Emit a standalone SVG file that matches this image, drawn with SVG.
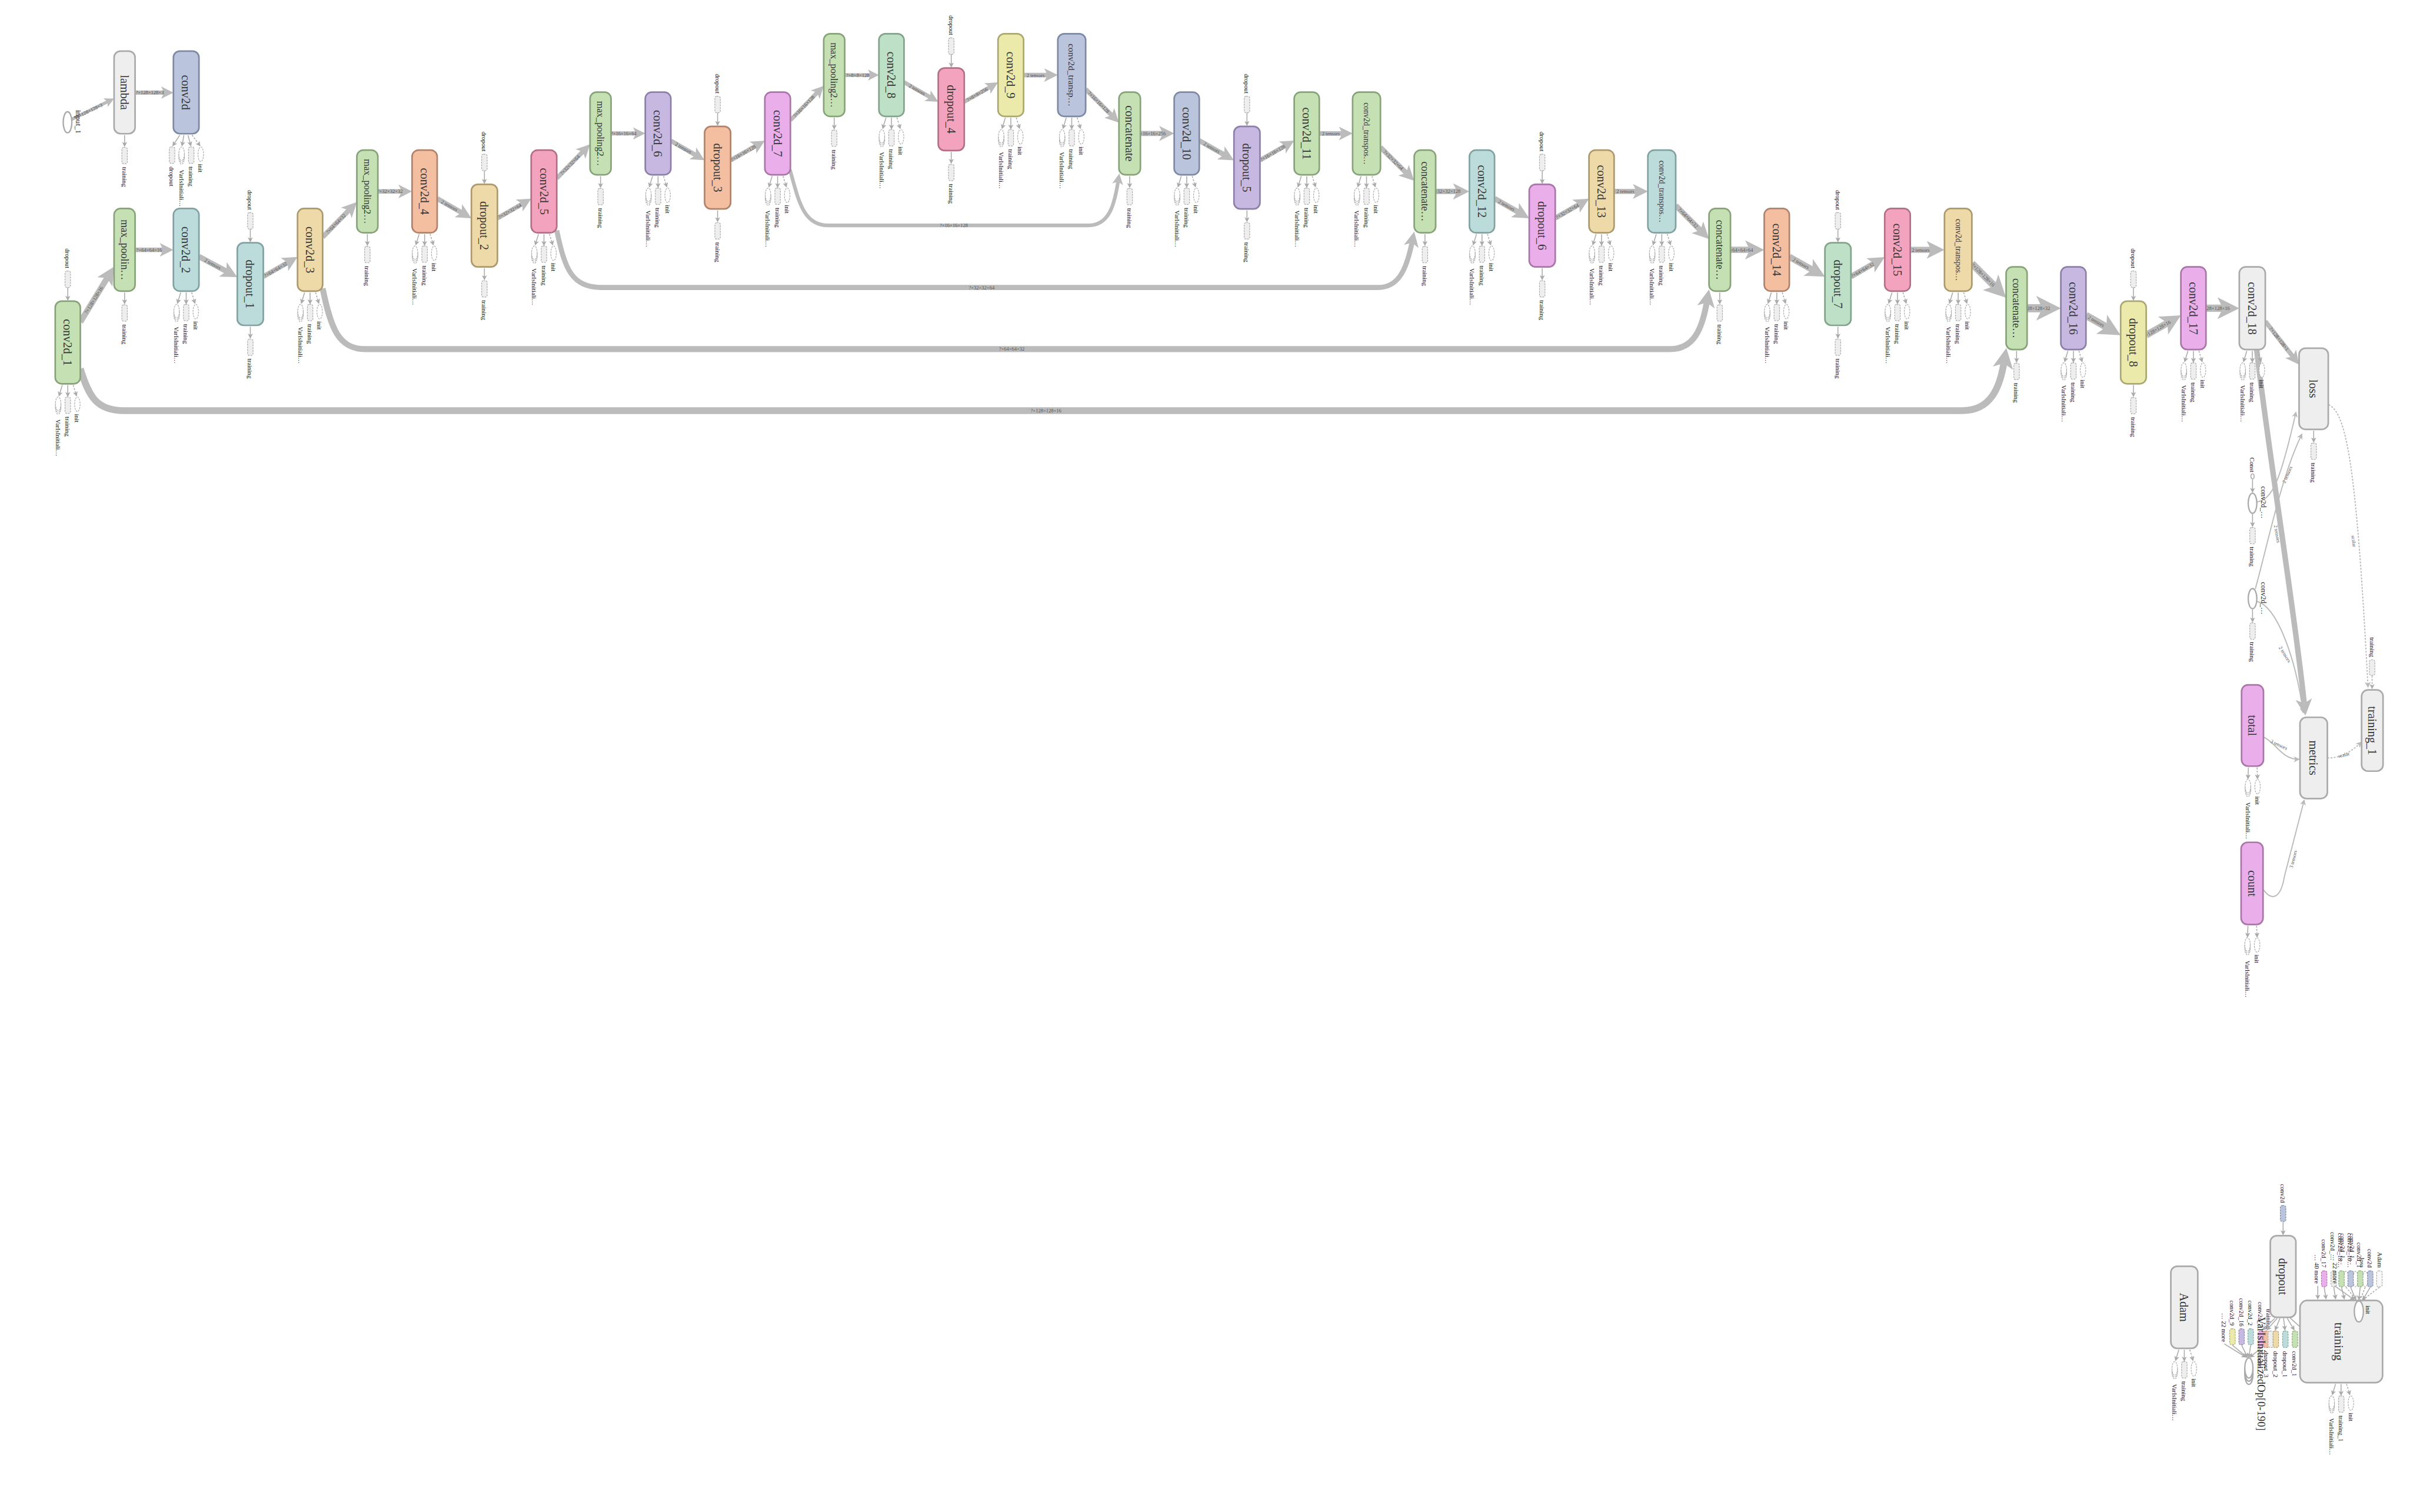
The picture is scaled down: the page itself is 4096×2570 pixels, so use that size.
<svg xmlns="http://www.w3.org/2000/svg" width="4096" height="2570" viewBox="0 0 4096 2570">
<style>
text{font-family:"Liberation Serif","Times New Roman",serif}
.nb{stroke-width:3.5}
.g{fill:#eeeeee;stroke:#aaaaaa}
.grn{fill:#c5e1b4;stroke:#88a37a}
.blu{fill:#bac4dc;stroke:#7e89a3}
.tea{fill:#bcdcdb;stroke:#82a2a1}
.tan{fill:#eed9a9;stroke:#ac996d}
.sal{fill:#f4bea1;stroke:#b1836d}
.pnk{fill:#f4a3bf;stroke:#b26f88}
.pur{fill:#c7b8e1;stroke:#8d80a8}
.mag{fill:#eaaeea;stroke:#a877a8}
.mnt{fill:#bde0c6;stroke:#83a38b}
.yel{fill:#ebeaab;stroke:#aba873}
.nl{font-size:26px;fill:#333;text-anchor:middle;dominant-baseline:central}
.al{font-size:14px;fill:#111;dominant-baseline:central}
.ae{text-anchor:end}
.el{font-size:11px;fill:#555;text-anchor:middle;dominant-baseline:central}
.e{fill:none;stroke:#bbbbbb}
.t{fill:none;stroke:#bbbbbb;stroke-width:2.5}
.aw{fill:none;stroke:#aaaaaa;stroke-width:2}
.ad{stroke-dasharray:4 3}
.ar{fill:#eeeeee;stroke:#aaaaaa;stroke-width:1.5;stroke-dasharray:4 2}
.av{fill:#ffffff;stroke:#aaaaaa;stroke-width:1.5;stroke-dasharray:4 2}
.op{fill:#ffffff;stroke:#aaaaaa;stroke-width:3}
</style>
<defs>
<marker id="ah" viewBox="0 0 10 10" refX="2.5" refY="5" markerWidth="3" markerHeight="3" orient="auto"><path d="M0,0 L10,5 L0,10 L2.5,5 z" fill="#bbbbbb"/></marker>
<marker id="sa" viewBox="0 0 10 10" refX="8" refY="5" markerWidth="11" markerHeight="11" markerUnits="userSpaceOnUse" orient="auto"><path d="M0,0 L10,5 L0,10 L2.5,5 z" fill="#aaaaaa"/></marker>
<marker id="ta" viewBox="0 0 10 10" refX="8" refY="5" markerWidth="14" markerHeight="13" markerUnits="userSpaceOnUse" orient="auto"><path d="M0,0 L10,5 L0,10 L2.5,5 z" fill="#bbbbbb"/></marker>
<g id="vs">
<ellipse class="av" cx="0" cy="52" rx="6" ry="15"/>
<ellipse class="av" cx="0" cy="48" rx="6" ry="15"/>
<ellipse class="av" cx="0" cy="44" rx="6" ry="15"/>
</g>
<g id="a3">
<path class="aw" d="M-12,3 L-19,26" marker-end="url(#sa)"/>
<path class="aw" d="M0,3 V27" marker-end="url(#sa)"/>
<path class="aw ad" d="M12,3 L19,26" marker-end="url(#sa)"/>
<use href="#vs" x="-21"/>
<rect class="ar" x="-6" y="29" width="12" height="36" rx="4"/>
<ellipse class="av" cx="21" cy="45" rx="6" ry="16"/>
<text class="al" transform="translate(-21,78) rotate(90)">VarIsInitiali…</text>
<text class="al" transform="translate(0,72) rotate(90)">training</text>
<text class="al" transform="translate(21,66) rotate(90)">init</text>
</g>
<g id="a4">
<path class="aw" d="M-14,3 L-29,26" marker-end="url(#sa)"/>
<path class="aw" d="M-5,3 L-9,26" marker-end="url(#sa)"/>
<path class="aw" d="M4,3 L10,26" marker-end="url(#sa)"/>
<path class="aw ad" d="M13,3 L30,26" marker-end="url(#sa)"/>
<rect class="ar" x="-37" y="29" width="12" height="36" rx="4"/>
<use href="#vs" x="-10"/>
<rect class="ar" x="5" y="29" width="12" height="36" rx="4"/>
<ellipse class="av" cx="32" cy="45" rx="6" ry="16"/>
<text class="al" transform="translate(-31,72) rotate(90)">dropout</text>
<text class="al" transform="translate(-10,79) rotate(90)">VarIsInitiali…</text>
<text class="al" transform="translate(11,72) rotate(90)">training</text>
<text class="al" transform="translate(32,66) rotate(90)">init</text>
</g>
<g id="a2">
<path class="aw" d="M-9,3 L-10,27" marker-end="url(#sa)"/>
<path class="aw ad" d="M10,3 L11,27" marker-end="url(#sa)"/>
<use href="#vs" x="-10"/>
<ellipse class="av" cx="11" cy="45" rx="6" ry="16"/>
<text class="al" transform="translate(-10,79) rotate(90)">VarIsInitiali…</text>
<text class="al" transform="translate(11,66) rotate(90)">init</text>
</g>
<g id="a1">
<path class="aw" d="M0,3 V27" marker-end="url(#sa)"/>
<rect class="ar" x="-6" y="30" width="12" height="36" rx="4"/>
<text class="al" transform="translate(0,73) rotate(90)">training</text>
</g>
<g id="din">
<rect class="ar" x="-6" y="-66" width="12" height="36" rx="4"/>
<path class="aw" d="M0,-30 V-3" marker-end="url(#sa)"/>
<text class="al ae" transform="translate(0,-72) rotate(90)">dropout</text>
</g>
</defs>
<rect width="4096" height="2570" fill="#ffffff"/>
<g transform="scale(0.7756)">

<g id="connectors">
<path class="e" style="stroke-width:7" d="M156,262 L235.9,222.9" marker-end="url(#ah)"/>
<path class="e" style="stroke-width:9" d="M296,203 H359.8" marker-end="url(#ah)"/>
<path class="e" style="stroke-width:13" d="M176,705.7 L234.8,609.4" marker-end="url(#ah)"/>
<path class="e" style="stroke-width:10" d="M296,547.5 H357.5" marker-end="url(#ah)"/>
<path class="e" style="stroke-width:12" d="M436,562.4 L496.2,594.6" marker-end="url(#ah)"/>
<path class="e" style="stroke-width:11" d="M577,606.2 L630.5,575.5" marker-end="url(#ah)"/>
<path class="e" style="stroke-width:11" d="M707,519.5 L764.7,460.7" marker-end="url(#ah)"/>
<path class="e" style="stroke-width:10" d="M828,419.5 H880.5" marker-end="url(#ah)"/>
<path class="e" style="stroke-width:11" d="M958,435.2 L1011.5,465.9" marker-end="url(#ah)"/>
<path class="e" style="stroke-width:10" d="M1090,478.1 L1144.5,446.8" marker-end="url(#ah)"/>
<path class="e" style="stroke-width:10" d="M1220,390.8 L1277.3,332.2" marker-end="url(#ah)"/>
<path class="e" style="stroke-width:9" d="M1339,292.5 H1393.8" marker-end="url(#ah)"/>
<path class="e" style="stroke-width:10" d="M1470,308.6 L1524.5,339.9" marker-end="url(#ah)"/>
<path class="e" style="stroke-width:10" d="M1601,351.2 L1656.4,319.6" marker-end="url(#ah)"/>
<path class="e" style="stroke-width:9" d="M1732,263.6 L1790.9,202.7" marker-end="url(#ah)"/>
<path class="e" style="stroke-width:8" d="M1851,164.5 H1908" marker-end="url(#ah)"/>
<path class="e" style="stroke-width:9" d="M1981,180.2 L2038.4,213.1" marker-end="url(#ah)"/>
<path class="e" style="stroke-width:9" d="M2113,223.1 L2169.4,190.7" marker-end="url(#ah)"/>
<path class="e" style="stroke-width:10" d="M2243,164.5 H2295.5" marker-end="url(#ah)"/>
<path class="e" style="stroke-width:10" d="M2379,195.2 L2436.2,252.8" marker-end="url(#ah)"/>
<path class="e" style="stroke-width:11" d="M2499,292.5 H2548.3" marker-end="url(#ah)"/>
<path class="e" style="stroke-width:11" d="M2628,308.1 L2682.5,339.1" marker-end="url(#ah)"/>
<path class="e" style="stroke-width:10" d="M2761,351.2 L2816.5,319.4" marker-end="url(#ah)"/>
<path class="e" style="stroke-width:10" d="M2891,292.5 H2941.5" marker-end="url(#ah)"/>
<path class="e" style="stroke-width:11" d="M3025,322.8 L3081.4,378.8" marker-end="url(#ah)"/>
<path class="e" style="stroke-width:12" d="M3146,419.5 H3193" marker-end="url(#ah)"/>
<path class="e" style="stroke-width:12" d="M3275,435.1 L3327.5,465" marker-end="url(#ah)"/>
<path class="e" style="stroke-width:11" d="M3408,478.1 L3460.6,447.8" marker-end="url(#ah)"/>
<path class="e" style="stroke-width:11" d="M3537,419.5 H3586.3" marker-end="url(#ah)"/>
<path class="e" style="stroke-width:12" d="M3672,450.2 L3726,504.6" marker-end="url(#ah)"/>
<path class="e" style="stroke-width:14" d="M3792,547.5 H3834.5" marker-end="url(#ah)"/>
<path class="e" style="stroke-width:14" d="M3921,562.9 L3971.5,591.1" marker-end="url(#ah)"/>
<path class="e" style="stroke-width:12" d="M4056,606.1 L4106.6,577" marker-end="url(#ah)"/>
<path class="e" style="stroke-width:13" d="M4186,547.5 H4231.8" marker-end="url(#ah)"/>
<path class="e" style="stroke-width:16" d="M4321,577.5 L4370.5,627" marker-end="url(#ah)"/>
<path class="e" style="stroke-width:18" d="M4442,675.5 H4475.5" marker-end="url(#ah)"/>
<path class="e" style="stroke-width:16" d="M4571,691.2 L4615.7,716.7" marker-end="url(#ah)"/>
<path class="e" style="stroke-width:15" d="M4703,734.5 L4749.7,707.9" marker-end="url(#ah)"/>
<path class="e" style="stroke-width:16" d="M4834,675.5 H4871" marker-end="url(#ah)"/>
<path class="e" style="stroke-width:10" d="M4964,704 L5024.2,781.2" marker-end="url(#ah)"/>
<path class="e" style="stroke-width:12" d="M4945,765 C4965,950 5030,1350 5049.2,1541.3" marker-end="url(#ah)"/>
<path class="e" style="stroke-width:8" d="M1731,372 C1750,440 1760,494 1815,494 L2385,494 C2430,494 2442,450 2450,398" marker-end="url(#ah)"/>
<path class="e" style="stroke-width:11" d="M1220,505 C1238,590 1252,630 1320,630 L3020,630 C3065,630 3082,590 3094,532" marker-end="url(#ah)"/>
<path class="e" style="stroke-width:13" d="M707,632 C725,720 742,765 800,765 L3660,765 C3712,765 3730,720 3740,663" marker-end="url(#ah)"/>
<path class="e" style="stroke-width:15" d="M176,808 C195,870 212,900 272,900 L4300,900 C4362,900 4382,850 4391,796" marker-end="url(#ah)"/>
<path class="t" d="M4946,1100 C4980,1095 4998,1050 5031,904" marker-end="url(#ta)"/>
<path class="t" d="M4942,1291 C4970,1190 5000,1040 5044,952" marker-end="url(#ta)"/>
<path class="t" d="M4946,1318 C4990,1330 5030,1440 5047,1561" marker-end="url(#ta)"/>
<path class="t" d="M4960,1615 C4990,1630 5000,1664 5037,1664" marker-end="url(#ta)"/>
<path class="t" d="M4960,1950 C4978,1975 4998,1970 5006,1920 L5049,1754" marker-end="url(#ta)"/>
<path class="t ad" d="M5103,887 C5145,905 5165,1050 5189,1505" marker-end="url(#ta)"/>
<path class="t ad" d="M5100,1661 C5125,1662 5150,1650 5174,1627" marker-end="url(#ta)"/>
</g>

<g id="edge-labels">
<text class="el" transform="translate(196,242.5) rotate(-26)">?×128×128×3</text>
<text class="el" transform="translate(328,203)">?×128×128×3</text>
<text class="el" transform="translate(205.4,657.6) rotate(-58.6)">?×128×128×16</text>
<text class="el" transform="translate(326.8,547.5)">?×64×64×16</text>
<text class="el" transform="translate(466.1,578.5) rotate(28.2)">2 tensors</text>
<text class="el" transform="translate(603.8,590.9) rotate(-29.9)">?×64×64×32</text>
<text class="el" transform="translate(735.9,490.1) rotate(-45.6)">?×64×64×32</text>
<text class="el" transform="translate(854.3,419.5)">?×32×32×32</text>
<text class="el" transform="translate(984.8,450.6) rotate(29.9)">2 tensors</text>
<text class="el" transform="translate(1117.3,462.5) rotate(-29.9)">?×32×32×64</text>
<text class="el" transform="translate(1248.7,361.5) rotate(-45.7)">?×32×32×64</text>
<text class="el" transform="translate(1366.4,292.5)">?×16×16×64</text>
<text class="el" transform="translate(1497.3,324.3) rotate(29.9)">2 tensors</text>
<text class="el" transform="translate(1628.7,335.4) rotate(-29.7)">?×16×16×128</text>
<text class="el" transform="translate(1761.5,233.2) rotate(-45.9)">?×16×16×128</text>
<text class="el" transform="translate(1879.5,164.5)">?×8×8×128</text>
<text class="el" transform="translate(2009.7,196.7) rotate(29.8)">2 tensors</text>
<text class="el" transform="translate(2141.2,206.9) rotate(-29.9)">?×8×8×256</text>
<text class="el" transform="translate(2269.3,164.5)">2 tensors</text>
<text class="el" transform="translate(2407.6,224) rotate(45.2)">?×16×16×128</text>
<text class="el" transform="translate(2523.6,292.5)">?×16×16×256</text>
<text class="el" transform="translate(2655.3,323.6) rotate(29.6)">2 tensors</text>
<text class="el" transform="translate(2788.8,335.3) rotate(-29.8)">?×16×16×128</text>
<text class="el" transform="translate(2916.3,292.5)">2 tensors</text>
<text class="el" transform="translate(3053.2,350.8) rotate(44.8)">?×32×32×64</text>
<text class="el" transform="translate(3169.5,419.5)">?×32×32×128</text>
<text class="el" transform="translate(3301.3,450.1) rotate(29.6)">2 tensors</text>
<text class="el" transform="translate(3434.3,463) rotate(-30)">?×32×32×64</text>
<text class="el" transform="translate(3561.6,419.5)">2 tensors</text>
<text class="el" transform="translate(3699,477.4) rotate(45.2)">?×64×64×32</text>
<text class="el" transform="translate(3813.3,547.5)">?×64×64×64</text>
<text class="el" transform="translate(3946.3,577) rotate(29.2)">2 tensors</text>
<text class="el" transform="translate(4081.3,591.6) rotate(-29.9)">?×64×64×32</text>
<text class="el" transform="translate(4208.9,547.5)">2 tensors</text>
<text class="el" transform="translate(4345.8,602.3) rotate(45)">?×128×128×16</text>
<text class="el" transform="translate(4458.8,675.5)">?×128×128×32</text>
<text class="el" transform="translate(4593.4,704) rotate(29.7)">2 tensors</text>
<text class="el" transform="translate(4726.4,721.2) rotate(-29.7)">?×128×128×16</text>
<text class="el" transform="translate(4852.5,675.5)">?×128×128×16</text>
<text class="el" transform="translate(4994.1,742.6) rotate(52.1)">?×128×128×1</text>
<text class="el" transform="translate(4990,1170) rotate(80)">2 tensors</text>
<text class="el" transform="translate(2090,494)">?×16×16×128</text>
<text class="el" transform="translate(2151,630)">?×32×32×64</text>
<text class="el" transform="translate(2217,765)">?×64×64×32</text>
<text class="el" transform="translate(2292,900)">?×128×128×16</text>
<text class="el" transform="translate(5012,1040) rotate(-66)">2 tensors</text>
<text class="el" transform="translate(5007,1434) rotate(58)">2 tensors</text>
<text class="el" transform="translate(4994,1632) rotate(25)">3 tensors</text>
<text class="el" transform="translate(5025,1883) rotate(-76)">3 tensors</text>
<text class="el" transform="translate(5158,1186) rotate(82)">scalar</text>
<text class="el" transform="translate(5136,1654) rotate(-15)">scalar</text>
</g>

<g id="input_1">
<ellipse class="op" cx="148" cy="268" rx="9.5" ry="23"/>
<text style="font-size:17px;fill:#222;text-anchor:middle;dominant-baseline:central" transform="translate(172,267) rotate(90)">input_1</text>
</g>
<g id="lambda"><rect class="nb g" x="250" y="112" width="46" height="181" rx="14"/><text class="nl" transform="translate(273,202.5) rotate(90)">lambda</text><use href="#a1" x="273" y="293"/></g>
<g id="conv2d"><rect class="nb blu" x="380" y="112" width="56" height="181" rx="14"/><text class="nl" transform="translate(408,202.5) rotate(90)">conv2d</text><use href="#a4" x="408" y="293"/></g>
<g id="conv2d_1"><rect class="nb grn" x="121" y="660" width="55" height="181" rx="14"/><text class="nl" transform="translate(148.5,750.5) rotate(90)">conv2d_1</text><use href="#din" x="148.5" y="660"/><use href="#a3" x="148.5" y="841"/></g>
<g id="max_pooling2d"><rect class="nb grn" x="250" y="457" width="46" height="181" rx="14"/><text class="nl" style="font-size:23px" transform="translate(273,547.5) rotate(90)">max_poolin…</text><use href="#a1" x="273" y="638"/></g>
<g id="conv2d_2"><rect class="nb tea" x="380" y="457" width="56" height="181" rx="14"/><text class="nl" transform="translate(408,547.5) rotate(90)">conv2d_2</text><use href="#a3" x="408" y="638"/></g>
<g id="dropout_1"><rect class="nb tea" x="520" y="532" width="57" height="181" rx="14"/><text class="nl" transform="translate(548.5,622.5) rotate(90)">dropout_1</text><use href="#din" x="548.5" y="532"/><use href="#a1" x="548.5" y="713"/></g>
<g id="conv2d_3"><rect class="nb tan" x="652" y="457" width="55" height="181" rx="14"/><text class="nl" transform="translate(679.5,547.5) rotate(90)">conv2d_3</text><use href="#a3" x="679.5" y="638"/></g>
<g id="max_pooling2d_1"><rect class="nb grn" x="782" y="329" width="46" height="181" rx="14"/><text class="nl" style="font-size:21px" transform="translate(805,419.5) rotate(90)">max_pooling2…</text><use href="#a1" x="805" y="510"/></g>
<g id="conv2d_4"><rect class="nb sal" x="903" y="329" width="55" height="181" rx="14"/><text class="nl" transform="translate(930.5,419.5) rotate(90)">conv2d_4</text><use href="#a3" x="930.5" y="510"/></g>
<g id="dropout_2"><rect class="nb tan" x="1033" y="404" width="57" height="181" rx="14"/><text class="nl" transform="translate(1061.5,494.5) rotate(90)">dropout_2</text><use href="#din" x="1061.5" y="404"/><use href="#a1" x="1061.5" y="585"/></g>
<g id="conv2d_5"><rect class="nb pnk" x="1164" y="329" width="56" height="181" rx="14"/><text class="nl" transform="translate(1192,419.5) rotate(90)">conv2d_5</text><use href="#a3" x="1192" y="510"/></g>
<g id="max_pooling2d_2"><rect class="nb grn" x="1293" y="202" width="46" height="181" rx="14"/><text class="nl" style="font-size:21px" transform="translate(1316,292.5) rotate(90)">max_pooling2…</text><use href="#a1" x="1316" y="383"/></g>
<g id="conv2d_6"><rect class="nb pur" x="1414" y="202" width="56" height="181" rx="14"/><text class="nl" transform="translate(1442,292.5) rotate(90)">conv2d_6</text><use href="#a3" x="1442" y="383"/></g>
<g id="dropout_3"><rect class="nb sal" x="1544" y="277" width="57" height="181" rx="14"/><text class="nl" transform="translate(1572.5,367.5) rotate(90)">dropout_3</text><use href="#din" x="1572.5" y="277"/><use href="#a1" x="1572.5" y="458"/></g>
<g id="conv2d_7"><rect class="nb mag" x="1676" y="202" width="56" height="181" rx="14"/><text class="nl" transform="translate(1704,292.5) rotate(90)">conv2d_7</text><use href="#a3" x="1704" y="383"/></g>
<g id="max_pooling2d_3"><rect class="nb grn" x="1805" y="74" width="46" height="181" rx="14"/><text class="nl" style="font-size:21px" transform="translate(1828,164.5) rotate(90)">max_pooling2…</text><use href="#a1" x="1828" y="255"/></g>
<g id="conv2d_8"><rect class="nb mnt" x="1926" y="74" width="55" height="181" rx="14"/><text class="nl" transform="translate(1953.5,164.5) rotate(90)">conv2d_8</text><use href="#a3" x="1953.5" y="255"/></g>
<g id="dropout_4"><rect class="nb pnk" x="2056" y="149" width="57" height="181" rx="14"/><text class="nl" transform="translate(2084.5,239.5) rotate(90)">dropout_4</text><use href="#din" x="2084.5" y="149"/><use href="#a1" x="2084.5" y="330"/></g>
<g id="conv2d_9"><rect class="nb yel" x="2187" y="74" width="56" height="181" rx="14"/><text class="nl" transform="translate(2215,164.5) rotate(90)">conv2d_9</text><use href="#a3" x="2215" y="255"/></g>
<g id="conv2d_transpose"><rect class="nb blu" x="2318" y="74" width="61" height="181" rx="14"/><text class="nl" style="font-size:20px" transform="translate(2348.5,164.5) rotate(90)">conv2d_transp…</text><use href="#a3" x="2348.5" y="255"/></g>
<g id="concatenate"><rect class="nb grn" x="2452" y="202" width="47" height="181" rx="14"/><text class="nl" transform="translate(2475.5,292.5) rotate(90)">concatenate</text><use href="#a1" x="2475.5" y="383"/></g>
<g id="conv2d_10"><rect class="nb blu" x="2573" y="202" width="55" height="181" rx="14"/><text class="nl" transform="translate(2600.5,292.5) rotate(90)">conv2d_10</text><use href="#a3" x="2600.5" y="383"/></g>
<g id="dropout_5"><rect class="nb pur" x="2704" y="277" width="57" height="181" rx="14"/><text class="nl" transform="translate(2732.5,367.5) rotate(90)">dropout_5</text><use href="#din" x="2732.5" y="277"/><use href="#a1" x="2732.5" y="458"/></g>
<g id="conv2d_11"><rect class="nb grn" x="2836" y="202" width="55" height="181" rx="14"/><text class="nl" transform="translate(2863.5,292.5) rotate(90)">conv2d_11</text><use href="#a3" x="2863.5" y="383"/></g>
<g id="conv2d_transpose_1"><rect class="nb grn" x="2964" y="202" width="61" height="181" rx="14"/><text class="nl" style="font-size:17.5px" transform="translate(2994.5,292.5) rotate(90)">conv2d_transpos…</text><use href="#a3" x="2994.5" y="383"/></g>
<g id="concatenate_1"><rect class="nb grn" x="3099" y="329" width="47" height="181" rx="14"/><text class="nl" style="font-size:23px" transform="translate(3122.5,419.5) rotate(90)">concatenate…</text><use href="#a1" x="3122.5" y="510"/></g>
<g id="conv2d_12"><rect class="nb tea" x="3220" y="329" width="55" height="181" rx="14"/><text class="nl" transform="translate(3247.5,419.5) rotate(90)">conv2d_12</text><use href="#a3" x="3247.5" y="510"/></g>
<g id="dropout_6"><rect class="nb mag" x="3351" y="404" width="57" height="181" rx="14"/><text class="nl" transform="translate(3379.5,494.5) rotate(90)">dropout_6</text><use href="#din" x="3379.5" y="404"/><use href="#a1" x="3379.5" y="585"/></g>
<g id="conv2d_13"><rect class="nb tan" x="3482" y="329" width="55" height="181" rx="14"/><text class="nl" transform="translate(3509.5,419.5) rotate(90)">conv2d_13</text><use href="#a3" x="3509.5" y="510"/></g>
<g id="conv2d_transpose_2"><rect class="nb tea" x="3611" y="329" width="61" height="181" rx="14"/><text class="nl" style="font-size:17.5px" transform="translate(3641.5,419.5) rotate(90)">conv2d_transpos…</text><use href="#a3" x="3641.5" y="510"/></g>
<g id="concatenate_2"><rect class="nb grn" x="3745" y="457" width="47" height="181" rx="14"/><text class="nl" style="font-size:23px" transform="translate(3768.5,547.5) rotate(90)">concatenate…</text><use href="#a1" x="3768.5" y="638"/></g>
<g id="conv2d_14"><rect class="nb sal" x="3866" y="457" width="55" height="181" rx="14"/><text class="nl" transform="translate(3893.5,547.5) rotate(90)">conv2d_14</text><use href="#a3" x="3893.5" y="638"/></g>
<g id="dropout_7"><rect class="nb mnt" x="3999" y="532" width="57" height="181" rx="14"/><text class="nl" transform="translate(4027.5,622.5) rotate(90)">dropout_7</text><use href="#din" x="4027.5" y="532"/><use href="#a1" x="4027.5" y="713"/></g>
<g id="conv2d_15"><rect class="nb pnk" x="4130" y="457" width="56" height="181" rx="14"/><text class="nl" transform="translate(4158,547.5) rotate(90)">conv2d_15</text><use href="#a3" x="4158" y="638"/></g>
<g id="conv2d_transpose_3"><rect class="nb tan" x="4261" y="457" width="60" height="181" rx="14"/><text class="nl" style="font-size:17.5px" transform="translate(4291,547.5) rotate(90)">conv2d_transpos…</text><use href="#a3" x="4291" y="638"/></g>
<g id="concatenate_3"><rect class="nb grn" x="4396" y="585" width="46" height="181" rx="14"/><text class="nl" style="font-size:23px" transform="translate(4419,675.5) rotate(90)">concatenate…</text><use href="#a1" x="4419" y="766"/></g>
<g id="conv2d_16"><rect class="nb pur" x="4516" y="585" width="55" height="181" rx="14"/><text class="nl" transform="translate(4543.5,675.5) rotate(90)">conv2d_16</text><use href="#a3" x="4543.5" y="766"/></g>
<g id="dropout_8"><rect class="nb yel" x="4647" y="660" width="56" height="181" rx="14"/><text class="nl" transform="translate(4675,750.5) rotate(90)">dropout_8</text><use href="#din" x="4675" y="660"/><use href="#a1" x="4675" y="841"/></g>
<g id="conv2d_17"><rect class="nb mag" x="4779" y="585" width="55" height="181" rx="14"/><text class="nl" transform="translate(4806.5,675.5) rotate(90)">conv2d_17</text><use href="#a3" x="4806.5" y="766"/></g>
<g id="conv2d_18"><rect class="nb g" x="4907" y="585" width="57" height="181" rx="14"/><text class="nl" transform="translate(4935.5,675.5) rotate(90)">conv2d_18</text><use href="#a3" x="4935.5" y="766"/></g>
<g id="loss"><rect class="nb g" x="5038" y="763" width="64" height="178" rx="14"/><text class="nl" transform="translate(5070,852) rotate(90)">loss</text><use href="#a1" x="5070" y="941"/></g>
<g id="const-ops">
<ellipse class="op" style="stroke-width:2" cx="4936" cy="1044" rx="3.5" ry="5.5"/>
<text class="al ae" transform="translate(4936,1035) rotate(90)">Const</text>
<path class="aw" d="M4936,1051 V1078" marker-end="url(#sa)"/>
<ellipse class="op" cx="4936" cy="1103" rx="9.5" ry="22"/>
<text style="font-size:16px;fill:#222;text-anchor:middle;dominant-baseline:central" transform="translate(4960,1101) rotate(90)">conv2d_…</text>
<path class="aw" d="M4936,1126 V1153" marker-end="url(#sa)"/>
<rect class="ar" x="4930" y="1156" width="12" height="36" rx="4"/>
<text class="al" transform="translate(4935,1198) rotate(90)">training</text>
<ellipse class="op" cx="4936" cy="1312" rx="9.5" ry="22"/>
<text style="font-size:16px;fill:#222;text-anchor:middle;dominant-baseline:central" transform="translate(4960,1311) rotate(90)">conv2d_…</text>
<path class="aw" d="M4936,1335 V1362" marker-end="url(#sa)"/>
<rect class="ar" x="4930" y="1365" width="12" height="36" rx="4"/>
<text class="al" transform="translate(4935,1407) rotate(90)">training</text>
</g>
<g id="metrics"><rect class="nb g" x="5040" y="1572" width="60" height="178" rx="14"/><text class="nl" transform="translate(5070,1661) rotate(90)">metrics</text></g>
<g id="training_1"><rect class="nb g" x="5175" y="1512" width="47" height="178" rx="14"/><text class="nl" transform="translate(5198.5,1601) rotate(90)">training_1</text>
<rect class="ar" x="5192" y="1446" width="12" height="34" rx="4"/>
<path class="aw ad" d="M5198,1481 V1508" marker-end="url(#sa)"/>
<text class="al ae" transform="translate(5198,1440) rotate(90)">training</text></g>
<g id="total"><rect class="nb mag" x="4912" y="1501" width="48" height="178" rx="14"/><text class="nl" transform="translate(4936,1590) rotate(90)">total</text><use href="#a2" x="4936" y="1679"/></g>
<g id="count"><rect class="nb mag" x="4911" y="1846" width="48" height="180" rx="14"/><text class="nl" transform="translate(4935,1936) rotate(90)">count</text><use href="#a2" x="4935" y="2026"/></g>
<g id="Adam"><rect class="nb g" x="4757" y="2775" width="59" height="180" rx="14"/><text class="nl" transform="translate(4786.5,2865) rotate(90)">Adam</text><use href="#a3" x="4786.5" y="2955"/></g>

<g id="dropout">
<text class="al ae" transform="translate(4972,2912) rotate(90)">training</text>
<rect class="nb g" x="4975" y="2708" width="56" height="179" rx="14"/><text class="nl" transform="translate(5003,2797.5) rotate(90)">dropout</text>
<rect x="4997" y="2642" width="12" height="35" rx="4" style="fill:#bac4dc;stroke:#7e89a3;stroke-width:1.5;stroke-dasharray:4 2"/>
<text class="al ae" transform="translate(5003,2636) rotate(90)">conv2d</text>
<path class="aw" d="M5003,2678 V2705" marker-end="url(#sa)"/>
<path class="aw" d="M4985,2889 L4959,2914" marker-end="url(#sa)"/>
<path class="aw" d="M4990,2889 L4968,2914" marker-end="url(#sa)"/>
<path class="aw" d="M4996,2889 L4986,2914" marker-end="url(#sa)"/>
<path class="aw" d="M5004,2889 L5007,2914" marker-end="url(#sa)"/>
<path class="aw" d="M5012,2889 L5027,2914" marker-end="url(#sa)"/>
<path class="aw" d="M5018,2888 L5047,2914" marker-end="url(#sa)"/>
<rect x="4949" y="2917" width="12" height="36" rx="4" style="fill:#eaaeea;stroke:#a877a8;stroke-width:1.5;stroke-dasharray:4 2"/>
<rect x="4960" y="2917" width="12" height="36" rx="4" style="fill:#f4bea1;stroke:#b1836d;stroke-width:1.5;stroke-dasharray:4 2"/>
<rect class="ar" x="4970" y="2917" width="12" height="36" rx="4"/>
<rect x="4981" y="2917" width="12" height="36" rx="4" style="fill:#eed9a9;stroke:#ac996d;stroke-width:1.5;stroke-dasharray:4 2"/>
<rect x="5002" y="2917" width="12" height="36" rx="4" style="fill:#bcdcdb;stroke:#82a2a1;stroke-width:1.5;stroke-dasharray:4 2"/>
<rect x="5023" y="2917" width="12" height="36" rx="4" style="fill:#c5e1b4;stroke:#88a37a;stroke-width:1.5;stroke-dasharray:4 2"/>
<rect x="5044" y="2917" width="12" height="36" rx="4" style="fill:#f8f8f8;stroke:#aaaaaa;stroke-width:1.5;stroke-dasharray:4 2"/>
<text class="al" transform="translate(4966,2961) rotate(90)">dropout_3</text>
<text class="al" transform="translate(4987,2961) rotate(90)">dropout_2</text>
<text class="al" transform="translate(5008,2961) rotate(90)">dropout_1</text>
<text class="al" transform="translate(5029,2961) rotate(90)">conv2d_1</text>
<text class="al" transform="translate(5050,2961) rotate(90)">training</text>
<text class="al" transform="translate(4953,2940) rotate(90)">… 3 more</text>
</g>
<g id="VarIsInitializedOp">
<rect x="4886" y="2912" width="12" height="35" rx="4" style="fill:#ebeaab;stroke:#aba873;stroke-width:1.5;stroke-dasharray:4 2"/>
<rect x="4906" y="2912" width="12" height="35" rx="4" style="fill:#c7b8e1;stroke:#8d80a8;stroke-width:1.5;stroke-dasharray:4 2"/>
<rect x="4926" y="2912" width="12" height="35" rx="4" style="fill:#bcdcdb;stroke:#82a2a1;stroke-width:1.5;stroke-dasharray:4 2"/>
<text class="al ae" transform="translate(4892,2905) rotate(90)">conv2d_9</text>
<text class="al ae" transform="translate(4874,2941) rotate(90)">… 22 more</text>
<text class="al ae" transform="translate(4912,2907) rotate(90)">conv2d_16</text>
<text class="al ae" transform="translate(4932,2905) rotate(90)">conv2d_2</text>
<text class="al ae" transform="translate(4953,2908) rotate(90)">conv2d_7</text>
<path class="aw" d="M4874,2945 L4921,2974" marker-end="url(#sa)"/>
<path class="aw" d="M4892,2948 L4923,2974" marker-end="url(#sa)"/>
<path class="aw" d="M4912,2948 L4925,2974" marker-end="url(#sa)"/>
<path class="aw" d="M4932,2948 L4928,2974" marker-end="url(#sa)"/>
<path class="aw" d="M4955,2954 L4931,2974" marker-end="url(#sa)"/>
<ellipse class="op" cx="4928" cy="3012" rx="9" ry="22"/>
<ellipse class="op" cx="4928" cy="3005" rx="9" ry="22"/>
<ellipse class="op" cx="4928" cy="2998" rx="9" ry="22"/>
<text style="font-size:24px;fill:#333;dominant-baseline:central" transform="translate(4956,2886) rotate(90)">VarIsInitializedOp[0-190]</text>
</g>
<g id="training">
<rect class="nb g" x="5040" y="2850" width="181" height="180" rx="16"/>
<text class="nl" style="font-size:27px" transform="translate(5125,2940) rotate(90)">training</text>
<ellipse class="op" cx="5169" cy="2874" rx="10" ry="23"/>
<text class="al" transform="translate(5190,2861) rotate(90)">init</text>
<ellipse class="av" cx="5141" cy="2803" rx="6" ry="17"/>
<ellipse class="av" cx="5162" cy="2803" rx="6" ry="17"/>
<ellipse class="av" cx="5183" cy="2803" rx="6" ry="17"/>
<rect x="5087" y="2785" width="12" height="35" rx="4" style="fill:#eaaeea;stroke:#a877a8;stroke-width:1.5;stroke-dasharray:4 2"/>
<rect class="ar" x="5108" y="2785" width="12" height="35" rx="4"/>
<rect x="5125" y="2785" width="12" height="35" rx="4" style="fill:#c5e1b4;stroke:#88a37a;stroke-width:1.5;stroke-dasharray:4 2"/>
<rect x="5145" y="2785" width="12" height="35" rx="4" style="fill:#bac4dc;stroke:#7e89a3;stroke-width:1.5;stroke-dasharray:4 2"/>
<rect x="5166" y="2785" width="12" height="35" rx="4" style="fill:#c5e1b4;stroke:#88a37a;stroke-width:1.5;stroke-dasharray:4 2"/>
<rect x="5188" y="2785" width="12" height="35" rx="4" style="fill:#bac4dc;stroke:#7e89a3;stroke-width:1.5;stroke-dasharray:4 2"/>
<rect x="5208" y="2785" width="12" height="35" rx="4" style="fill:#f8f8f8;stroke:#aaaaaa;stroke-width:1.5;stroke-dasharray:4 2"/>
<text class="al ae" transform="translate(5093,2778) rotate(90)">conv2d_17</text>
<text class="al ae" transform="translate(5078,2813) rotate(90)">… 40 more</text>
<text class="al ae" transform="translate(5112,2762) rotate(90)">conv2d_…</text>
<text class="al ae" transform="translate(5117,2813) rotate(90)">… 22 more</text>
<text class="al ae" transform="translate(5129,2778) rotate(90)">conv2d_18…</text>
<text class="al ae" transform="translate(5134,2772) rotate(90)">conv2d_1…</text>
<text class="al ae" transform="translate(5150,2778) rotate(90)">conv2d_10…</text>
<text class="al ae" transform="translate(5155,2772) rotate(90)">conv2d_1…</text>
<text class="al ae" transform="translate(5170,2778) rotate(90)">conv2d_1</text>
<text class="al ae" transform="translate(5176,2778) rotate(90)">loss</text>
<text class="al ae" transform="translate(5194,2778) rotate(90)">conv2d</text>
<text class="al ae" transform="translate(5215,2778) rotate(90)">Adam</text>
<path class="aw" d="M5079,2818 V2846" marker-end="url(#sa)"/>
<path class="aw" d="M5093,2821 L5097,2846" marker-end="url(#sa)"/>
<path class="aw" d="M5114,2821 L5118,2846" marker-end="url(#sa)"/>
<path class="aw" d="M5131,2821 L5137,2846" marker-end="url(#sa)"/>
<path class="aw" d="M5116,2818 L5158,2848" marker-end="url(#sa)"/>
<path class="aw" d="M5151,2821 L5162,2848" marker-end="url(#sa)"/>
<path class="aw" d="M5172,2821 L5169,2848" marker-end="url(#sa)"/>
<path class="aw" d="M5194,2821 L5178,2848" marker-end="url(#sa)"/>
<path class="aw ad" d="M5214,2821 L5176,2850" marker-end="url(#sa)"/>
<path class="aw ad" d="M5141,2821 L5163,2848"/>
<path class="aw ad" d="M5183,2821 L5172,2848"/>
<path class="aw" d="M5118,3033 L5111,3056" marker-end="url(#sa)"/>
<path class="aw" d="M5130,3033 V3057" marker-end="url(#sa)"/>
<path class="aw ad" d="M5142,3033 L5149,3056" marker-end="url(#sa)"/>
<use href="#vs" x="5109.5" y="3030"/>
<rect class="ar" x="5124.5" y="3059" width="12" height="36" rx="4"/>
<ellipse class="av" cx="5151.5" cy="3075" rx="6" ry="16"/>
<text class="al" transform="translate(5109.5,3108) rotate(90)">VarIsInitiali…</text>
<text class="al" transform="translate(5130.5,3102) rotate(90)">training_1</text>
<text class="al" transform="translate(5151.5,3096) rotate(90)">init</text>
</g>
</g>
</svg>
